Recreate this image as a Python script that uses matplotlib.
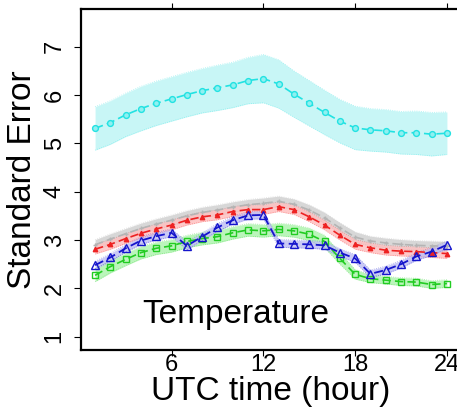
import matplotlib
matplotlib.use("Agg")
import matplotlib.pyplot as plt
import numpy as np

plt.rcParams['font.family'] = ['Liberation Sans', 'DejaVu Sans']

hours = list(range(1, 25))

cyan_se = [5.31, 5.43, 5.59, 5.72, 5.83, 5.92, 6.01, 6.09, 6.15, 6.21, 6.30, 6.34,
           6.23, 6.02, 5.83, 5.64, 5.46, 5.32, 5.28, 5.26, 5.22, 5.22, 5.19, 5.21]
cyan_hw = [0.45, 0.45, 0.45, 0.46, 0.46, 0.46, 0.46, 0.46, 0.47, 0.47, 0.48, 0.50,
           0.50, 0.48, 0.47, 0.46, 0.45, 0.45, 0.44, 0.44, 0.44, 0.45, 0.45, 0.44]

gray_se = [2.90, 3.02, 3.13, 3.24, 3.33, 3.41, 3.50, 3.57, 3.62, 3.68, 3.73, 3.76,
           3.80, 3.74, 3.62, 3.46, 3.25, 3.06, 2.98, 2.94, 2.91, 2.89, 2.88, 2.87]
gray_hw = [0.11, 0.11, 0.11, 0.11, 0.11, 0.11, 0.11, 0.11, 0.11, 0.11, 0.11, 0.11,
           0.11, 0.11, 0.11, 0.11, 0.11, 0.11, 0.10, 0.10, 0.10, 0.10, 0.10, 0.10]

red_se = [2.81, 2.91, 3.03, 3.14, 3.23, 3.31, 3.41, 3.48, 3.52, 3.59, 3.63, 3.63,
          3.69, 3.63, 3.48, 3.31, 3.10, 2.91, 2.84, 2.79, 2.77, 2.76, 2.74, 2.72]
red_hw = [0.10, 0.10, 0.10, 0.10, 0.10, 0.10, 0.10, 0.10, 0.10, 0.10, 0.10, 0.10,
          0.10, 0.10, 0.10, 0.10, 0.10, 0.10, 0.10, 0.10, 0.10, 0.10, 0.10, 0.10]

blue_se = [2.48, 2.64, 2.83, 2.99, 3.08, 3.15, 2.88, 3.07, 3.26, 3.41, 3.51, 3.52,
           2.93, 2.92, 2.91, 2.89, 2.74, 2.62, 2.30, 2.38, 2.50, 2.66, 2.76, 2.90]
blue_hw = [0.08, 0.08, 0.08, 0.08, 0.08, 0.08, 0.08, 0.08, 0.08, 0.08, 0.08, 0.08,
           0.08, 0.08, 0.08, 0.08, 0.08, 0.08, 0.08, 0.08, 0.08, 0.08, 0.08, 0.08]

green_se = [2.27, 2.45, 2.60, 2.74, 2.83, 2.88, 2.97, 3.03, 3.07, 3.15, 3.21, 3.19,
            3.22, 3.19, 3.12, 2.97, 2.62, 2.29, 2.20, 2.17, 2.14, 2.13, 2.08, 2.10]
green_hw = [0.13, 0.13, 0.13, 0.13, 0.13, 0.13, 0.13, 0.13, 0.13, 0.13, 0.13, 0.13,
            0.13, 0.13, 0.13, 0.13, 0.12, 0.10, 0.08, 0.08, 0.08, 0.08, 0.08, 0.08]

x_ticks = [6, 12, 18, 24]
y_ticks = [1, 2, 3, 4, 5, 6, 7]

series = [
    # values, half-width, line colour, band colour, marker, marker size, marker face, line width
    (gray_se, gray_hw, "#b4b4b4", "#d0d0d0", "+", 3.0, "#b4b4b4", 1.2),
    (red_se, red_hw, "#ee2222", "#ffc0c0", "^", 3.2, "#ee2222", 1.2),
    (green_se, green_hw, "#22cc22", "#b0f4b0", "s", 4.0, "none", 1.2),
    (blue_se, blue_hw, "#1515cc", "#c0c0f4", "^", 5.5, "none", 1.3),
    (cyan_se, cyan_hw, "#22e2e2", "#bff5f5", "o", 4.2, "#8ff0f0", 1.2),
]

fig = plt.figure(figsize=(4.57, 4.07), dpi=100)
ax = fig.add_axes([81 / 457, 57 / 407, 380 / 457, 341 / 407])

x = np.array(hours)
for vals, hw, lc, bc, mk, ms, mf, lw in series:
    v = np.array(vals)
    h = np.array(hw)
    ax.fill_between(x, v - h, v + h, color=bc, alpha=0.85, linewidth=0, zorder=1)
    ax.plot(x, v + h, color=lc, lw=0.6, ls=":", alpha=0.4, zorder=2)
    ax.plot(x, v - h, color=lc, lw=0.6, ls=":", alpha=0.4, zorder=2)

for vals, hw, lc, bc, mk, ms, mf, lw in series:
    ax.plot(x, vals, color=lc, lw=lw, ls=(0, (5, 2.5)), marker=mk, ms=ms,
            mfc=mf, mec=lc, mew=1.0, zorder=3)

ax.set_xlim(0.08, 24.92)
ax.set_ylim(0.725, 7.78)

ax.set_xticks(x_ticks)
ax.set_xticklabels([str(t) for t in x_ticks])
ax.set_yticks(y_ticks)
ax.set_yticklabels([str(t) for t in y_ticks], rotation=90, va="center")

ax.tick_params(axis="x", which="both", direction="out", length=4, width=0.8,
               labelsize=17, pad=-1, top=True, colors="black")
ax.tick_params(axis="y", which="both", direction="out", length=5, width=0.8,
               labelsize=17, pad=6)

for s in ax.spines.values():
    s.set_linewidth(1.6)

ax.set_xlabel("UTC time (hour)", fontsize=24, labelpad=0)
ax.set_ylabel("Standard Error", fontsize=24, labelpad=4)

ax.text(10.2, 1.45, "Temperature", fontsize=24, ha="center", va="center")

fig.savefig("out.png", dpi=100)
